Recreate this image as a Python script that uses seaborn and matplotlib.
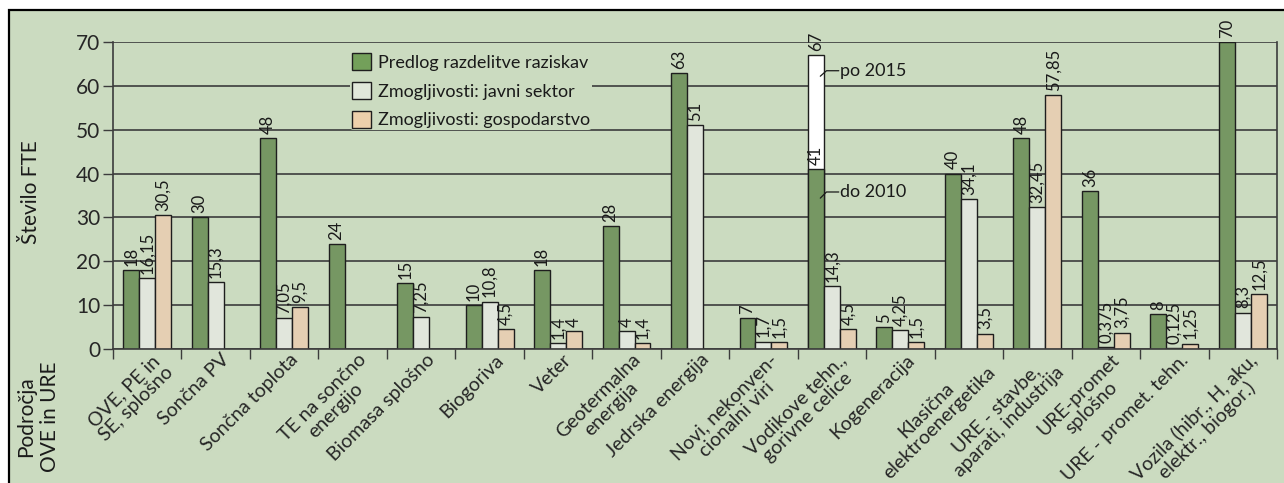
import numpy as np
import pandas as pd
import seaborn as sns
import matplotlib.pyplot as plt
import matplotlib.transforms as mtransforms
from matplotlib.patches import Rectangle, Patch

categories = [
    "OVE, PE in\nSE, splošno",
    "Sončna PV",
    "Sončna toplota",
    "TE na sončno\nenergijo",
    "Biomasa splošno",
    "Biogoriva",
    "Veter",
    "Geotermalna\nenergija",
    "Jedrska energija",
    "Novi, nekonven-\ncionalni viri",
    "Vodikove tehn.,\ngorivne celice",
    "Kogeneracija",
    "Klasična\nelektroenergetika",
    "URE - stavbe,\naparati, industrija",
    "URE-promet\nsplošno",
    "URE - promet. tehn.",
    "Vozila (hibr., H, aku,\nelektr., biogor.)",
]
series = ["Predlog razdelitve raziskav", "Zmogljivosti: javni sektor", "Zmogljivosti: gospodarstvo"]

predlog = [18, 30, 48, 24, 15, 10, 18, 28, 63, 7, 41, 5, 40, 48, 36, 8, 70]
javni = [16.15, 15.3, 7.05, np.nan, 7.25, 10.8, 1.4, 4, 51, 1.7, 14.3, 4.25, 34.1, 32.45, 0.375, 0.125, 8.3]
gospodarstvo = [30.5, np.nan, 9.5, np.nan, np.nan, 4.5, 4, 1.4, np.nan, 1.5, 4.5, 1.5, 3.5, 57.85, 3.75, 1.25, 12.5]

# vodikove tehnologije: green bar = do 2010, white extension = po 2015
vodik_cat = categories[10]
vodik_po_2015 = 67

colors = ["#73a05a", "#e1e8da", "#edd0ab"]
bg = "#cbdbc0"
edge = "#1e1e1e"
grid_c = "#3c3c3c"

sns.set_style("ticks")
plt.rcParams["font.family"] = ["Lato", "DejaVu Sans"]
plt.rcParams["text.color"] = "#1a1a1a"

df = pd.concat([
    pd.DataFrame({"cat": categories, "series": s, "value": v})
    for s, v in zip(series, [predlog, javni, gospodarstvo])
]).dropna()
# the other two hue levels get zero height so the white bar keeps its dodge slot
ext = pd.DataFrame({"cat": [vodik_cat] * 3, "series": series, "value": [vodik_po_2015, 0, 0]})

W, H = 1284, 483
fig = plt.figure(figsize=(W / 100, H / 100), dpi=100, facecolor="white")
fig.add_artist(Rectangle((9 / W, -0.05), 1.2, 1 - 10 / H + 0.05, transform=fig.transFigure,
                         facecolor=bg, edgecolor="black", lw=1.6, zorder=-10))
ax = fig.add_axes([113 / W, 1 - 349 / H, (1277 - 113) / W, (349 - 42) / H])
ax.set_facecolor("none")

sns.barplot(data=ext, x="cat", y="value", hue="series", order=categories, hue_order=series,
            palette=["white"] * 3, width=0.7, edgecolor=edge, linewidth=1, errorbar=None,
            legend=False, ax=ax)
n_ext = len(ax.containers)
sns.barplot(data=df, x="cat", y="value", hue="series", order=categories, hue_order=series,
            palette=colors, width=0.7, edgecolor=edge, linewidth=1, errorbar=None,
            legend=False, ax=ax)

fmt = lambda v: f"{v:g}".replace(".", ",")
for i, c in enumerate(ax.containers):
    if i < n_ext:
        labels = [fmt(b.get_height()) if b.get_height() > 0 else "" for b in c]
        lab = ax.bar_label(c, labels=labels, rotation=90, padding=3, fontsize=12)
    else:
        lab = ax.bar_label(c, fmt=fmt, rotation=90, padding=3, fontsize=12)
    for t in lab:
        t.set_clip_on(False)

ax.set_ylim(0, 70)
ax.set_xlim(-0.5, len(categories) - 0.5)
ax.set_yticks(range(0, 71, 10))
ax.yaxis.grid(True, color=grid_c, lw=1.2)
ax.set_axisbelow(True)
ax.tick_params(axis="y", labelsize=15, length=7, width=1, color=grid_c, pad=2)

ax.set_xticks(np.arange(-0.5, len(categories)), labels=[])
ax.set_xticks(range(len(categories)), labels=categories, minor=True)
ax.tick_params(axis="x", which="major", length=7, width=1, color=grid_c)
ax.tick_params(axis="x", which="minor", length=0, pad=1.5, labelsize=14)
off = mtransforms.ScaledTranslation(5 / 100, 0, fig.dpi_scale_trans)
for t in ax.get_xticklabels(minor=True):
    t.set_rotation(45)
    t.set_ha("right")
    t.set_va("top")
    t.set_rotation_mode("anchor")
    t.set_multialignment("center")
    t.set_linespacing(1.05)
    t.set_transform(t.get_transform() + off)

ax.set_xlabel("")
ax.set_ylabel("")
for s in ["left", "bottom", "right"]:
    ax.spines[s].set_color(grid_c)
    ax.spines[s].set_linewidth(1.2)
ax.spines["top"].set_visible(False)

handles = [Patch(facecolor=c, edgecolor=edge, lw=1) for c in colors]
leg = ax.legend(handles, series, loc="upper left", bbox_to_anchor=(0.196, 0.998), fontsize=13,
                frameon=True, facecolor=bg, edgecolor="none", framealpha=1, handlelength=1.05,
                handleheight=1.05, handletextpad=0.4, labelspacing=0.62, borderpad=0.1)

# leader lines for the hydrogen bar
for y0, y1, txt in [(62.2, 63.45, "po 2015"), (34.4, 35.8, "do 2010")]:
    ax.plot([9.83, 9.92, 10.10], [y0, y1, y1], color="#1a1a1a", lw=0.9, clip_on=False)
    ax.text(10.12, y1, txt, fontsize=13, va="center", ha="left")

fig.text(31 / W, 1 - 192 / H, "Število FTE", rotation=90, ha="center", va="center", fontsize=15)
fig.text(38 / W, 1 - 417 / H, "Področja\nOVE in URE", rotation=90, ha="center", va="center",
         multialignment="center", fontsize=15)

fig.savefig("out.png", dpi=100, facecolor="white")
